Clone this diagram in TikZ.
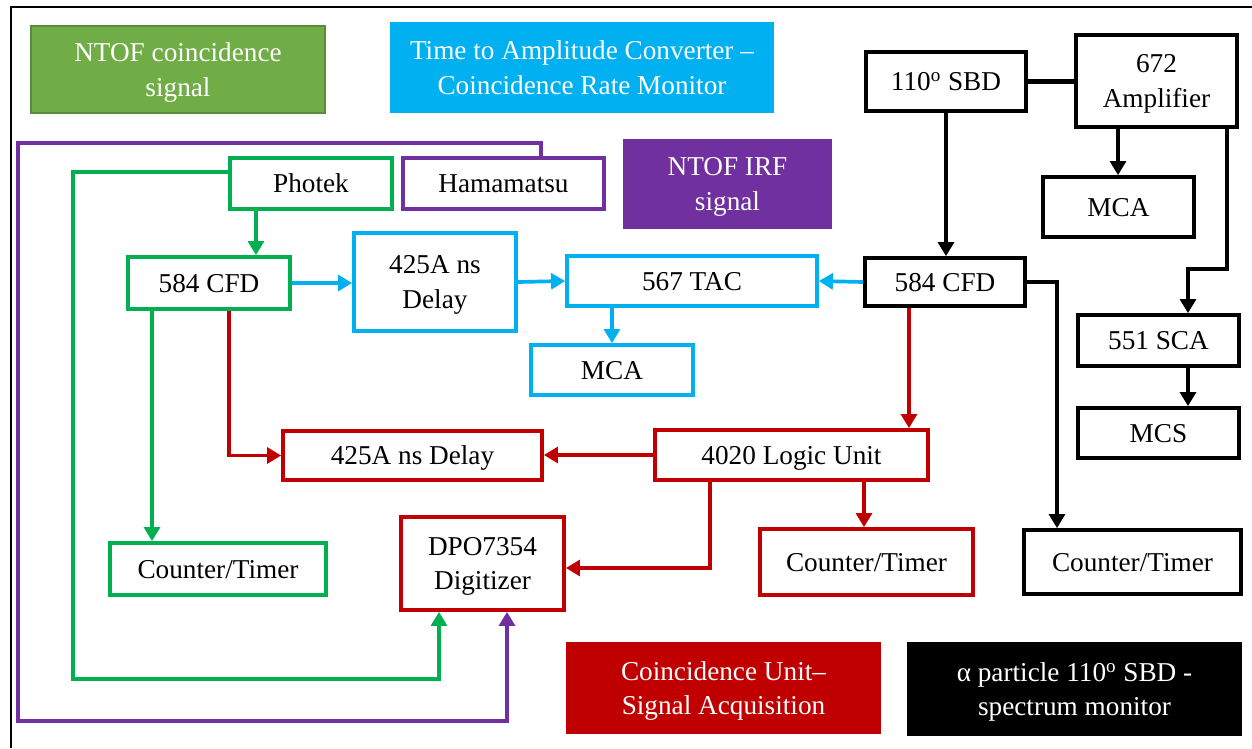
\documentclass[tikz,border=0pt]{standalone}
\usepackage{fontspec}
\setmainfont{Liberation Serif}
\usetikzlibrary{arrows.meta}
\definecolor{tacblue}{HTML}{00B0F0}
\definecolor{coingreen}{HTML}{00B050}
\definecolor{irfpurple}{HTML}{7030A0}
\definecolor{acqred}{HTML}{C00000}
\definecolor{leggreen}{HTML}{70AD47}
\definecolor{leggreenedge}{HTML}{5B8C3A}
\tikzset{
  blk/.style={draw, fill=white, line width=2.1pt, inner sep=0pt, align=center, text depth=0pt, font=\fontsize{15.5}{19.5}\selectfont},
  sz/.style 2 args={minimum width=#1*0.02cm, minimum height=#2*0.02cm},
  leg/.style={inner sep=0pt, align=center, text=white, text depth=0pt, font=\fontsize{15.5}{19.5}\selectfont},
  wire/.style={line width=2.1pt},
  arr/.style={wire, -{Triangle[length=8pt,width=9pt]}},
}

\begin{document}
\begin{tikzpicture}[x=0.02cm, y=-0.02cm]
	\useasboundingbox (0,0) rectangle (1252,748);
	\draw [line width=1.3pt] (1252,7) -- (11,7) -- (11,748);

	\node [leg, sz={294}{87}, fill=leggreen, draw=leggreenedge, line width=0.6pt] (leggreen) at (178,69.5) {NTOF coincidence\\signal};
	\node [leg, sz={384}{91}, fill=tacblue] (legblue) at (582,67.5) {Time to Amplitude Converter --\\Coincidence Rate Monitor};
	\node [leg, sz={209}{90}, fill=irfpurple] (legpurple) at (727.5,184) {NTOF IRF\\signal};
	\node [leg, sz={315}{92}, fill=acqred] (legred) at (723.5,688) {Coincidence Unit--\\Signal Acquisition};
	\node [leg, sz={335}{94}, fill=black] (legblack) at (1074.5,689) {α particle 110\textsuperscript{o} SBD -\\spectrum monitor};

	\node [blk, sz={162}{51}, draw=coingreen] (photek) at (311,183.5) {Photek};
	\node [blk, sz={201}{51}, draw=irfpurple] (hama) at (503.5,183.5) {Hamamatsu};
	\node [blk, sz={162}{52}, draw=coingreen] (cfdG) at (209,283) {584 CFD};
	\node [blk, sz={162}{98}, draw=tacblue] (delayB) at (435,282) {425A ns\\Delay};
	\node [blk, sz={250}{50}, draw=tacblue] (tac) at (692,281) {567 TAC};
	\node [blk, sz={162}{50}, draw=tacblue] (mcaB) at (612,370) {MCA};
	\node [blk, sz={216}{52}, draw=coingreen] (ctG) at (218,569) {Counter/Timer};
	\node [blk, sz={259}{49}, draw=acqred] (delayR) at (412.5,455.5) {425A ns Delay};
	\node [blk, sz={273}{50}, draw=acqred] (logic) at (791.5,455) {4020 Logic Unit};
	\node [blk, sz={163}{93}, draw=acqred] (dpo) at (482.5,563.5) {DPO7354\\Digitizer};
	\node [blk, sz={213}{66}, draw=acqred] (ctR) at (866.5,562) {Counter/Timer};
	\node [blk, sz={160}{59}] (sbd) at (946,81.5) {110\textsuperscript{o} SBD};
	\node [blk, sz={161}{92}] (amp) at (1156.5,81) {672\\Amplifier};
	\node [blk, sz={151}{60}] (mcaK) at (1118.5,207) {MCA};
	\node [blk, sz={160}{48}] (cfdK) at (945,282) {584 CFD};
	\node [blk, sz={161}{51}] (sca) at (1158.5,340.5) {551 SCA};
	\node [blk, sz={161}{50}] (mcs) at (1158.5,433) {MCS};
	\node [blk, sz={217}{64}] (ctK) at (1132.5,562) {Counter/Timer};

	\draw [arr, coingreen] (256,0 |- photek.south) -- (256,0 |- cfdG.north);
	\draw [arr, coingreen] (photek.west |- 0,172) -- (73,172) -- (73,679) -- (439,679) -- (439,0 |- dpo.south);
	\draw [arr, irfpurple] (541,0 |- hama.north) -- (541,143) -- (18,143) -- (18,721) -- (507,721) -- (507,0 |- dpo.south);
	\draw [arr, coingreen] (152,0 |- cfdG.south) -- (152,0 |- ctG.north);

	\draw [arr, tacblue] (cfdG.east) -- (delayB.west |- cfdG.east);
	\draw [arr, tacblue] (delayB.east) -- (tac.west);
	\draw [arr, tacblue] (612,0 |- tac.south) -- (mcaB.north);
	\draw [arr, tacblue] (cfdK.west) -- (tac.east);

	\draw [arr, acqred] (229,0 |- cfdG.south) |- (delayR.west);
	\draw [arr, acqred] (909,0 |- cfdK.south) -- (909,0 |- logic.north);
	\draw [arr, acqred] (logic.west) -- (delayR.east |- logic.west);
	\draw [arr, acqred] (710,0 |- logic.south) -- (710,568) -- (dpo.east |- 0,568);
	\draw [arr, acqred] (864,0 |- logic.south) -- (864,0 |- ctR.north);

	\draw [wire, line width=2.4pt] (sbd.east) -- (amp.west |- sbd.east);
	\draw [arr, line width=2.4pt] (sbd.south) -- (sbd.south |- cfdK.north);
	\draw [arr, line width=2.4pt] (1118,0 |- amp.south) -- (1118,0 |- mcaK.north);
	\draw [arr, line width=2.4pt] (1227,0 |- amp.south) -- (1227,269) -- (1188,269) -- (1188,0 |- sca.north);
	\draw [arr, line width=2.4pt] (1188,0 |- sca.south) -- (1188,0 |- mcs.north);
	\draw [arr, line width=2.4pt] (cfdK.east) -| (1057,0 |- ctK.north);
\end{tikzpicture}
\end{document}
